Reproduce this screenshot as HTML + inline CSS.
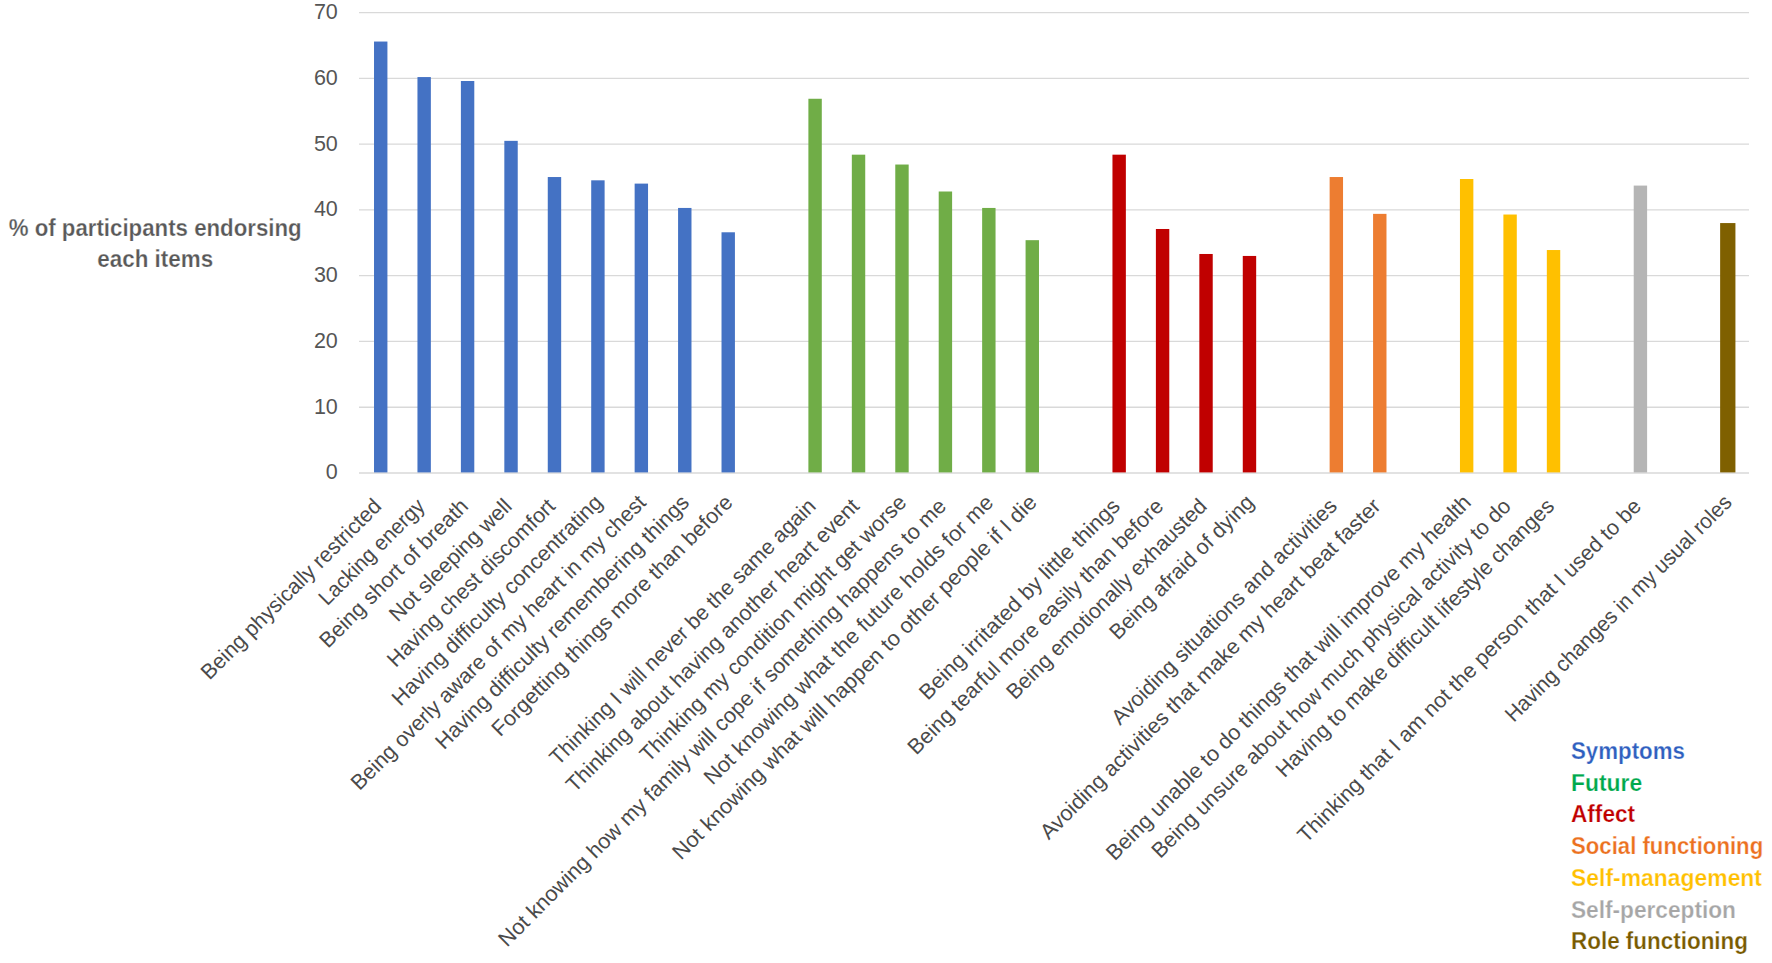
<!DOCTYPE html>
<html lang="en"><head><meta charset="utf-8"><title>Participants endorsing each item</title>
<style>
html,body{margin:0;padding:0;background:#fff;}
body{width:1772px;height:963px;overflow:hidden;}
svg{display:block;font-family:"Liberation Sans",Arial,sans-serif;}
.ax{font-size:21.5px;fill:#555555;}
.lb{font-size:21.5px;fill:#4a4a4a;}
.bd{font-size:23px;font-weight:bold;stroke:#ffffff;stroke-width:0.25px;}
</style></head><body>
<svg width="1772" height="963" viewBox="0 0 1772 963">
<rect width="1772" height="963" fill="#ffffff"/>
<g stroke="#d9d9d9" stroke-width="1.3" fill="none">
<line x1="359.0" y1="473.00" x2="1749.0" y2="473.00"/>
<line x1="359.0" y1="407.23" x2="1749.0" y2="407.23"/>
<line x1="359.0" y1="341.46" x2="1749.0" y2="341.46"/>
<line x1="359.0" y1="275.69" x2="1749.0" y2="275.69"/>
<line x1="359.0" y1="209.91" x2="1749.0" y2="209.91"/>
<line x1="359.0" y1="144.14" x2="1749.0" y2="144.14"/>
<line x1="359.0" y1="78.37" x2="1749.0" y2="78.37"/>
<line x1="359.0" y1="12.60" x2="1749.0" y2="12.60"/>
</g>
<g class="ax" text-anchor="end">
<text x="337.8" y="479.40">0</text>
<text x="337.8" y="413.63">10</text>
<text x="337.8" y="347.86">20</text>
<text x="337.8" y="282.09">30</text>
<text x="337.8" y="216.31">40</text>
<text x="337.8" y="150.54">50</text>
<text x="337.8" y="84.77">60</text>
<text x="337.8" y="19.00">70</text>
</g>
<g>
<rect x="374.02" y="41.54" width="13.4" height="430.86" fill="#4472C4"/>
<rect x="417.46" y="77.06" width="13.4" height="395.34" fill="#4472C4"/>
<rect x="460.89" y="81.00" width="13.4" height="391.40" fill="#4472C4"/>
<rect x="504.33" y="140.85" width="13.4" height="331.55" fill="#4472C4"/>
<rect x="547.77" y="177.03" width="13.4" height="295.37" fill="#4472C4"/>
<rect x="591.21" y="180.32" width="13.4" height="292.08" fill="#4472C4"/>
<rect x="634.64" y="183.61" width="13.4" height="288.79" fill="#4472C4"/>
<rect x="678.08" y="207.94" width="13.4" height="264.46" fill="#4472C4"/>
<rect x="721.52" y="232.28" width="13.4" height="240.12" fill="#4472C4"/>
<rect x="808.39" y="98.76" width="13.4" height="373.64" fill="#70AD47"/>
<rect x="851.83" y="154.67" width="13.4" height="317.73" fill="#70AD47"/>
<rect x="895.27" y="164.53" width="13.4" height="307.87" fill="#70AD47"/>
<rect x="938.71" y="191.50" width="13.4" height="280.90" fill="#70AD47"/>
<rect x="982.14" y="207.94" width="13.4" height="264.46" fill="#70AD47"/>
<rect x="1025.58" y="240.17" width="13.4" height="232.23" fill="#70AD47"/>
<rect x="1112.46" y="154.67" width="13.4" height="317.73" fill="#C00000"/>
<rect x="1155.89" y="228.99" width="13.4" height="243.41" fill="#C00000"/>
<rect x="1199.33" y="253.98" width="13.4" height="218.42" fill="#C00000"/>
<rect x="1242.77" y="255.95" width="13.4" height="216.45" fill="#C00000"/>
<rect x="1329.64" y="177.03" width="13.4" height="295.37" fill="#ED7D31"/>
<rect x="1373.08" y="213.86" width="13.4" height="258.54" fill="#ED7D31"/>
<rect x="1459.96" y="179.00" width="13.4" height="293.40" fill="#FFC000"/>
<rect x="1503.39" y="214.52" width="13.4" height="257.88" fill="#FFC000"/>
<rect x="1546.83" y="250.03" width="13.4" height="222.37" fill="#FFC000"/>
<rect x="1633.71" y="185.58" width="13.4" height="286.82" fill="#B5B5B5"/>
<rect x="1720.13" y="223.07" width="15.3" height="249.33" fill="#7F6000"/>
</g>
<g class="lb" text-anchor="end">
<text transform="translate(382.71 507.51) rotate(-45)" textLength="245.0" lengthAdjust="spacingAndGlyphs">Being physically restricted</text>
<text transform="translate(426.15 507.51) rotate(-45)" textLength="140.0" lengthAdjust="spacingAndGlyphs">Lacking energy</text>
<text transform="translate(469.59 507.51) rotate(-45)" textLength="200.2" lengthAdjust="spacingAndGlyphs">Being short of breath</text>
<text transform="translate(513.03 507.51) rotate(-45)" textLength="162.9" lengthAdjust="spacingAndGlyphs">Not sleeping well</text>
<text transform="translate(556.46 507.51) rotate(-45)" textLength="227.2" lengthAdjust="spacingAndGlyphs">Having chest discomfort</text>
<text transform="translate(603.65 503.76) rotate(-45)" textLength="287.3" lengthAdjust="spacingAndGlyphs">Having difficulty concentrating</text>
<text transform="translate(647.09 503.76) rotate(-45)" textLength="406.7" lengthAdjust="spacingAndGlyphs">Being overly aware of my heart in my chest</text>
<text transform="translate(690.52 503.76) rotate(-45)" textLength="348.8" lengthAdjust="spacingAndGlyphs">Having difficulty remembering things</text>
<text transform="translate(733.96 503.76) rotate(-45)" textLength="330.4" lengthAdjust="spacingAndGlyphs">Forgetting things more than before</text>
<text transform="translate(817.09 507.51) rotate(-45)" textLength="365.9" lengthAdjust="spacingAndGlyphs">Thinking I will never be the same again</text>
<text transform="translate(860.53 507.51) rotate(-45)" textLength="404.1" lengthAdjust="spacingAndGlyphs">Thinking about having another heart event</text>
<text transform="translate(907.71 503.76) rotate(-45)" textLength="366.6" lengthAdjust="spacingAndGlyphs">Thinking my condition might get worse</text>
<text transform="translate(947.40 507.51) rotate(-45)" textLength="622.7" lengthAdjust="spacingAndGlyphs">Not knowing how my family will cope if something happens to me</text>
<text transform="translate(994.59 503.76) rotate(-45)" textLength="398.8" lengthAdjust="spacingAndGlyphs">Not knowing what the future holds for me</text>
<text transform="translate(1038.02 503.76) rotate(-45)" textLength="504.8" lengthAdjust="spacingAndGlyphs">Not knowing what will happen to other people if I die</text>
<text transform="translate(1121.15 507.51) rotate(-45)" textLength="273.5" lengthAdjust="spacingAndGlyphs">Being irritated by little things</text>
<text transform="translate(1164.59 507.51) rotate(-45)" textLength="351.1" lengthAdjust="spacingAndGlyphs">Being tearful more easily than before</text>
<text transform="translate(1208.03 507.51) rotate(-45)" textLength="273.0" lengthAdjust="spacingAndGlyphs">Being emotionally exhausted</text>
<text transform="translate(1255.21 503.76) rotate(-45)" textLength="193.9" lengthAdjust="spacingAndGlyphs">Being afraid of dying</text>
<text transform="translate(1338.34 507.51) rotate(-45)" textLength="308.9" lengthAdjust="spacingAndGlyphs">Avoiding situations and activities</text>
<text transform="translate(1381.78 507.51) rotate(-45)" textLength="471.0" lengthAdjust="spacingAndGlyphs">Avoiding activities that make my heart beat faster</text>
<text transform="translate(1472.40 503.76) rotate(-45)" textLength="505.8" lengthAdjust="spacingAndGlyphs">Being unable to do things that will improve my health</text>
<text transform="translate(1512.09 507.51) rotate(-45)" textLength="497.6" lengthAdjust="spacingAndGlyphs">Being unsure about how much physical activity to do</text>
<text transform="translate(1555.53 507.51) rotate(-45)" textLength="383.4" lengthAdjust="spacingAndGlyphs">Having to make difficult lifestyle changes</text>
<text transform="translate(1642.40 507.51) rotate(-45)" textLength="475.4" lengthAdjust="spacingAndGlyphs">Thinking that I am not the person that I used to be</text>
<text transform="translate(1733.02 503.76) rotate(-45)" textLength="310.2" lengthAdjust="spacingAndGlyphs">Having changes in my usual roles</text>
</g>
<g class="bd" fill="#595959" text-anchor="middle">
<text x="155.2" y="235.6" textLength="293.0" lengthAdjust="spacingAndGlyphs">% of participants endorsing</text>
<text x="155.2" y="267.2" textLength="115.9" lengthAdjust="spacingAndGlyphs">each items</text>
</g>
<g class="bd">
<text x="1571" y="758.9" fill="#2F5FBF" textLength="113.9" lengthAdjust="spacingAndGlyphs">Symptoms</text>
<text x="1571" y="790.6" fill="#00A84C" textLength="71.2" lengthAdjust="spacingAndGlyphs">Future</text>
<text x="1571" y="822.3" fill="#C00000" textLength="64.1" lengthAdjust="spacingAndGlyphs">Affect</text>
<text x="1571" y="854.1" fill="#EC711F" textLength="192.2" lengthAdjust="spacingAndGlyphs">Social functioning</text>
<text x="1571" y="885.8" fill="#FFC000" textLength="191.0" lengthAdjust="spacingAndGlyphs">Self-management</text>
<text x="1571" y="917.5" fill="#A6A6A6" textLength="164.9" lengthAdjust="spacingAndGlyphs">Self-perception</text>
<text x="1571" y="949.2" fill="#785A00" textLength="177.0" lengthAdjust="spacingAndGlyphs">Role functioning</text>
</g>
</svg></body></html>
